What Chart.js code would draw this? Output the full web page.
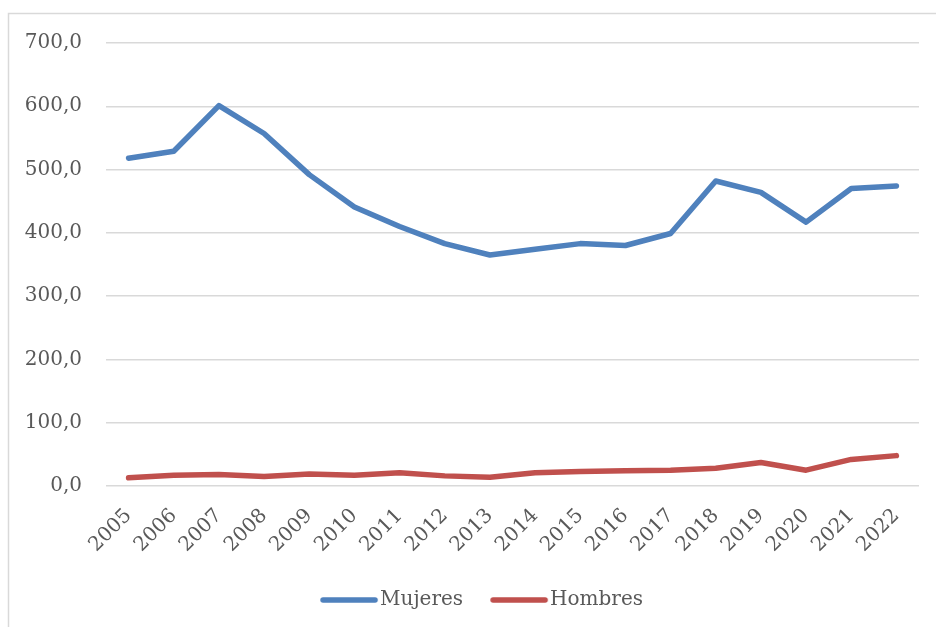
<!DOCTYPE html>
<html>
<head>
<meta charset="utf-8">
<script src="https://cdn.jsdelivr.net/npm/chart.js@4.4.1/dist/chart.umd.min.js"></script>
<style>
html,body{margin:0;padding:0;background:#fff;}
#wrap{position:relative;width:936px;height:627px;}
</style>
</head>
<body>
<div id="wrap"><canvas id="c" width="936" height="627"></canvas></div>
<script>
const years = ["2005","2006","2007","2008","2009","2010","2011","2012","2013","2014","2015","2016","2017","2018","2019","2020","2021","2022"];
const mujeres = [518, 529, 601, 557, 492, 441, 410, 383, 365, 374, 383, 380, 399, 482, 464, 417, 470, 474];
const hombres = [13, 17, 18, 15, 19, 17, 21, 16, 14, 21, 23, 24, 25, 28, 37, 25, 42, 48];
const yMin = 0, yMax = 700, yStep = 100;

const FONT = "'DejaVu Serif', serif";
const TXT = '#595959';
const COLORS = ['#4F81BD', '#C0504D'];

function legendMarker(color) {
  const cv = document.createElement('canvas');
  cv.width = 70; cv.height = 10;
  const c = cv.getContext('2d');
  c.strokeStyle = color;
  c.lineWidth = 5.5;
  c.lineCap = 'round';
  c.beginPath();
  c.moveTo(13, 5);
  c.lineTo(65, 5);
  c.stroke();
  return cv;
}
const markers = COLORS.map(legendMarker);

const borderPlugin = {
  id: 'outerBorder',
  beforeDraw(chart) {
    const ctx = chart.ctx;
    ctx.save();
    ctx.fillStyle = '#fff';
    ctx.fillRect(0, 0, chart.width, chart.height);
    ctx.strokeStyle = '#D9D9D9';
    ctx.lineWidth = 1.5;
    ctx.beginPath();
    ctx.moveTo(8.5, chart.height + 2);
    ctx.lineTo(8.5, 13.5);
    ctx.lineTo(chart.width + 2, 13.5);
    ctx.stroke();
    ctx.restore();
  }
};

const legendShift = {
  id: 'legendShift',
  afterLayout(chart) {
    const lg = chart.legend;
    if (!lg) return;
    lg.left += 22; lg.right += 22;
    lg.top -= 7; lg.bottom -= 7;
  }
};

new Chart(document.getElementById('c'), {
  type: 'line',
  data: {
    labels: years,
    datasets: [
      { label: 'Mujeres', data: mujeres, borderColor: COLORS[0], backgroundColor: COLORS[0],
        borderWidth: 5.5, pointRadius: 0, tension: 0, borderCapStyle: 'round', borderJoinStyle: 'round' },
      { label: 'Hombres', data: hombres, borderColor: COLORS[1], backgroundColor: COLORS[1],
        borderWidth: 5.5, pointRadius: 0, tension: 0, borderCapStyle: 'round', borderJoinStyle: 'round' }
    ]
  },
  options: {
    responsive: false,
    animation: false,
    layout: { padding: { top: 43, right: 17, bottom: 0, left: 0 } },
    plugins: {
      legend: {
        position: 'bottom',
        labels: {
          usePointStyle: true,
          pointStyleWidth: 50,
          boxHeight: 20,
          padding: 27,
          color: TXT,
          font: { family: FONT, size: 20 },
          generateLabels(chart) {
            const items = Chart.defaults.plugins.legend.labels.generateLabels(chart);
            items.forEach((it, i) => { it.pointStyle = markers[i]; });
            return items;
          }
        }
      },
      tooltip: { enabled: false }
    },
    scales: {
      x: {
        offset: true,
        grid: { display: false, drawTicks: false },
        border: { display: false },
        ticks: {
          color: TXT, font: { family: FONT, size: 20 },
          minRotation: 45, maxRotation: 45, padding: 18, autoSkip: false
        },
        afterFit(s) { s.height = 84; s.paddingLeft = 0; s.paddingRight = 0; }
      },
      y: {
        min: yMin, max: yMax,
        grid: { color: '#D9D9D9', lineWidth: 1.5, drawTicks: false },
        border: { display: false },
        ticks: {
          stepSize: yStep, color: TXT, font: { family: FONT, size: 20 }, padding: 24,
          callback: v => v.toFixed(1).replace('.', ',')
        },
        afterFit(s) { s.width = 106; }
      }
    }
  },
  plugins: [borderPlugin, legendShift]
});
</script>
</body>
</html>
